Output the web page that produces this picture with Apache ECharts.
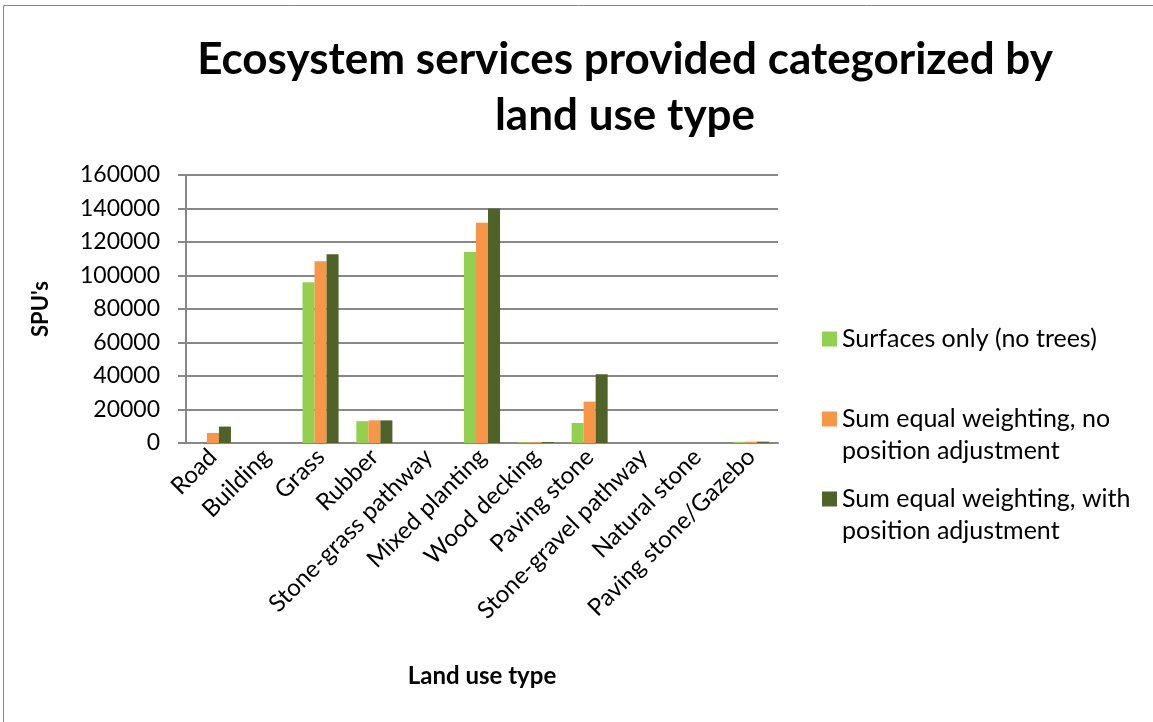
<!DOCTYPE html>
<html>
<head>
<meta charset="utf-8">
<script src="https://cdn.jsdelivr.net/npm/echarts@6/dist/echarts.min.js"></script>
<style>
  html, body { margin: 0; padding: 0; background: #fff; }
  #chart { width: 1153px; height: 722px; }
</style>
</head>
<body>
<div id="chart"></div>
<script>
const categories = ['Road', 'Building', 'Grass', 'Rubber', 'Stone-grass pathway', 'Mixed planting',
  'Wood decking', 'Paving stone', 'Stone-gravel pathway', 'Natural stone', 'Paving stone/Gazebo'];
const surfacesOnly = [0, 0, 96000, 13000, 0, 114000, 500, 12000, 0, 0, 700];
const equalNoAdjust = [6000, 0, 108500, 13500, 0, 131500, 600, 24700, 0, 0, 800];
const equalWithAdjust = [9800, 0, 112700, 13500, 0, 140000, 600, 41000, 0, 0, 800];
const yTicks = [0, 20000, 40000, 60000, 80000, 100000, 120000, 140000, 160000];

const FONT = 'Lato';
const chart = echarts.init(document.getElementById('chart'));

// one legend per entry so each can sit at its own height
function legendAt(name, label, top) {
  return {
    orient: 'vertical',
    left: 822,
    top: top,
    padding: 0,
    data: [name],
    icon: 'rect',
    itemWidth: 15,
    itemHeight: 15,
    itemGap: 0,
    formatter: function () { return label; },
    textStyle: { fontFamily: FONT, fontSize: 25, color: '#000', lineHeight: 32 }
  };
}

chart.setOption({
  animation: false,
  title: {
    text: 'Ecosystem services provided categorized by\nland use type',
    left: 620,
    top: 27,
    textAlign: 'center',
    textStyle: { fontFamily: FONT, fontWeight: 'bold', fontSize: 44, lineHeight: 56, color: '#000' }
  },
  graphic: [{
    type: 'rect',
    shape: { x: 3.5, y: 5.5, width: 1300, height: 900 },
    style: { fill: 'none', stroke: '#868686', lineWidth: 1 },
    silent: true
  }],
  legend: [
    legendAt('Surfaces only (no trees)', 'Surfaces only (no trees)', 323),
    legendAt('Sum equal weighting, no position adjustment', ' \nSum equal weighting, no\nposition adjustment', 371),
    legendAt('Sum equal weighting, with position adjustment', ' \nSum equal weighting, with\nposition adjustment', 451)
  ],
  grid: { left: 186, right: 375, top: 175, bottom: 279 },
  xAxis: {
    type: 'category',
    data: categories,
    name: 'Land use type',
    nameLocation: 'middle',
    nameGap: 221,
    nameTextStyle: { fontFamily: FONT, fontWeight: 'bold', fontSize: 24, color: '#000' },
    axisLine: { lineStyle: { color: '#888', width: 2 } },
    axisTick: { show: false },
    axisLabel: { interval: 0, rotate: 45, fontFamily: FONT, fontSize: 24, color: '#000', margin: 10 }
  },
  yAxis: {
    type: 'value',
    min: 0,
    max: yTicks[yTicks.length - 1],
    interval: yTicks[1] - yTicks[0],
    name: "SPU's",
    nameLocation: 'middle',
    nameGap: 134,
    nameTextStyle: { fontFamily: FONT, fontWeight: 'bold', fontSize: 22, color: '#000' },
    axisLine: { show: true, lineStyle: { color: '#888', width: 2 } },
    axisTick: { show: true, length: 8, lineStyle: { color: '#888', width: 2 } },
    axisLabel: { fontFamily: FONT, fontSize: 23, color: '#000', margin: 26,
      formatter: function (v) { return String(v); } },
    splitLine: { lineStyle: { color: '#888', width: 2 } }
  },
  series: [
    { name: 'Surfaces only (no trees)', type: 'bar', data: surfacesOnly,
      itemStyle: { color: '#92D050' }, barGap: '0%', barCategoryGap: '33%' },
    { name: 'Sum equal weighting, no position adjustment', type: 'bar', data: equalNoAdjust,
      itemStyle: { color: '#F79646' } },
    { name: 'Sum equal weighting, with position adjustment', type: 'bar', data: equalWithAdjust,
      itemStyle: { color: '#4F6228' } }
  ]
});
</script>
</body>
</html>
